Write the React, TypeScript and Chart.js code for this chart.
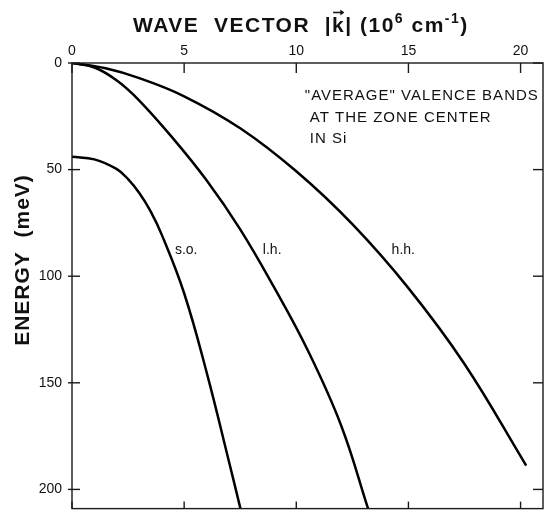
import React, { useEffect, useRef } from "react";
import { Chart, registerables } from "chart.js";

Chart.register(...registerables);

// Wave vector |k| (10^6 cm^-1) and energy (meV)
const K_HH = [0, 1.5, 3, 5, 7.5, 10, 12.5, 15, 17.5, 20.25];
const E_HH = [0, 2.5, 7.1, 15.6, 30.6, 50.8, 75.6, 105.6, 141.2, 188.8];

const K_LH = [0, 1, 2, 3, 4.5, 6, 7.5, 9, 10.5, 12, 13.2];
const E_LH = [0, 2.1, 8.2, 17.6, 35.3, 55, 78, 105, 134.5, 170, 209];

const K_SO = [0, 1, 2, 2.5, 3, 3.5, 4, 5, 6, 7, 7.51];
const E_SO = [44, 45.2, 49.8, 54.5, 61, 69.5, 80.5, 108, 145, 187, 209];

const X_TICKS = [0, 5, 10, 15, 20];
const Y_TICKS = [0, 50, 100, 150, 200];
const X_MAX = 21;
const Y_MAX = 209;

const BAND_LABELS = ["s.o.", "l.h.", "h.h."];
const BAND_LABEL_K = [4.59, 8.51, 14.25];
const BAND_LABEL_E = [87.9, 87.9, 87.9];

const INFO_LINES = ['"AVERAGE" VALENCE BANDS', "AT THE ZONE CENTER", "IN Si"];
const INFO_K = [10.38, 10.6, 10.6];
const INFO_E = [15.4, 25.9, 35.7];

const toPoints = (ks: number[], es: number[]) => ks.map((k, i) => ({ x: k, y: es[i] }));

const FONT = "'Liberation Sans', Arial, sans-serif";

const overlay = {
  id: "overlay",
  afterDraw(chart: any) {
    const { ctx, chartArea } = chart;
    const { left, right, top, bottom } = chartArea;
    const x = chart.scales.x;
    const y = chart.scales.y;
    ctx.save();
    ctx.strokeStyle = "#1a1a1a";
    ctx.lineWidth = 1.4;
    ctx.strokeRect(left, top, right - left, bottom - top);
    const line = (x1: number, y1: number, x2: number, y2: number) => {
      ctx.beginPath();
      ctx.moveTo(x1, y1);
      ctx.lineTo(x2, y2);
      ctx.stroke();
    };
    X_TICKS.forEach((v) => {
      const px = x.getPixelForValue(v);
      line(px, top, px, top + 10);
      line(px, bottom - 7, px, bottom);
    });
    Y_TICKS.forEach((v) => {
      const py = y.getPixelForValue(v);
      line(left - 4, py, left + 8, py);
      line(right - 10, py, right, py);
    });

    ctx.fillStyle = "#111";
    // band labels
    ctx.font = `14px ${FONT}`;
    ctx.textBaseline = "middle";
    ctx.textAlign = "left";
    BAND_LABELS.forEach((t, i) => {
      ctx.fillText(t, x.getPixelForValue(BAND_LABEL_K[i]), y.getPixelForValue(BAND_LABEL_E[i]));
    });
    // info lines
    ctx.font = `15px ${FONT}`;
    (ctx as any).letterSpacing = "1px";
    INFO_LINES.forEach((t, i) => {
      ctx.fillText(t, x.getPixelForValue(INFO_K[i]), y.getPixelForValue(INFO_E[i]));
    });

    // top axis title with superscripts
    (ctx as any).letterSpacing = "1.5px";
    ctx.textBaseline = "alphabetic";
    const big = `bold 21px ${FONT}`;
    const sup = `bold 14px ${FONT}`;
    const segs: [string, string, number][] = [
      ["WAVE  VECTOR  |", big, 0],
      ["k", big, 0],
      ["| (10", big, 0],
      ["6", sup, -9],
      [" cm", big, 0],
      ["-1", sup, -9],
      [")", big, 0],
    ];
    let cx = 133;
    const baseY = 31.5;
    segs.forEach(([t, f, dy], i) => {
      ctx.font = f;
      ctx.fillText(t, cx, baseY + dy);
      const w = ctx.measureText(t).width;
      if (i === 1) {
        // vector arrow over k
        ctx.lineWidth = 1.6;
        const ay = baseY - 19;
        line(cx + 1, ay, cx + w - 2, ay);
        ctx.beginPath();
        ctx.moveTo(cx + w - 1, ay);
        ctx.lineTo(cx + w - 5, ay - 3);
        ctx.lineTo(cx + w - 5, ay + 3);
        ctx.closePath();
        ctx.fill();
      }
      cx += w;
    });

    // left axis title
    ctx.save();
    ctx.translate(23, 260);
    ctx.rotate(-Math.PI / 2);
    ctx.font = `bold 21px ${FONT}`;
    (ctx as any).letterSpacing = "1px";
    ctx.textAlign = "center";
    ctx.textBaseline = "middle";
    ctx.fillText("ENERGY  (meV)", 0, 0);
    ctx.restore();

    ctx.restore();
  },
};

export default function App() {
  const ref = useRef<HTMLCanvasElement | null>(null);
  useEffect(() => {
    if (!ref.current) return;
    const ds = (ks: number[], es: number[]) => ({
      data: toPoints(ks, es),
      borderColor: "#000",
      borderWidth: 2.5,
      pointRadius: 0,
      fill: false,
      tension: 0.4,
    });
    const chart = new Chart(ref.current, {
      type: "line",
      data: { datasets: [ds(K_HH, E_HH), ds(K_LH, E_LH), ds(K_SO, E_SO)] },
      options: {
        animation: false,
        responsive: false,
        events: [],
        layout: { padding: { left: 0, top: 0, right: 2, bottom: 2 } },
        plugins: { legend: { display: false }, tooltip: { enabled: false }, title: { display: false } },
        scales: {
          x: {
            type: "linear",
            position: "top",
            min: 0,
            max: X_MAX,
            grid: { display: false, drawTicks: false },
            border: { display: false },
            ticks: {
              stepSize: 5,
              includeBounds: false,
              padding: 3,
              color: "#111",
              font: { family: FONT, size: 14 },
              maxRotation: 0,
            },
            afterFit: (s: any) => {
              s.height = 63;
            },
          },
          y: {
            type: "linear",
            reverse: true,
            min: 0,
            max: Y_MAX,
            grid: { display: false, drawTicks: false },
            border: { display: false },
            ticks: {
              stepSize: 50,
              includeBounds: false,
              padding: 10,
              color: "#111",
              font: { family: FONT, size: 14 },
            },
            afterFit: (s: any) => {
              s.width = 72;
            },
          },
        },
      },
      plugins: [overlay],
    });
    return () => chart.destroy();
  }, []);
  return (
    <div style={{ position: "absolute", left: 0, top: 0, width: 545, height: 527, background: "#fff" }}>
      <canvas ref={ref} width={545} height={527} />
    </div>
  );
}
